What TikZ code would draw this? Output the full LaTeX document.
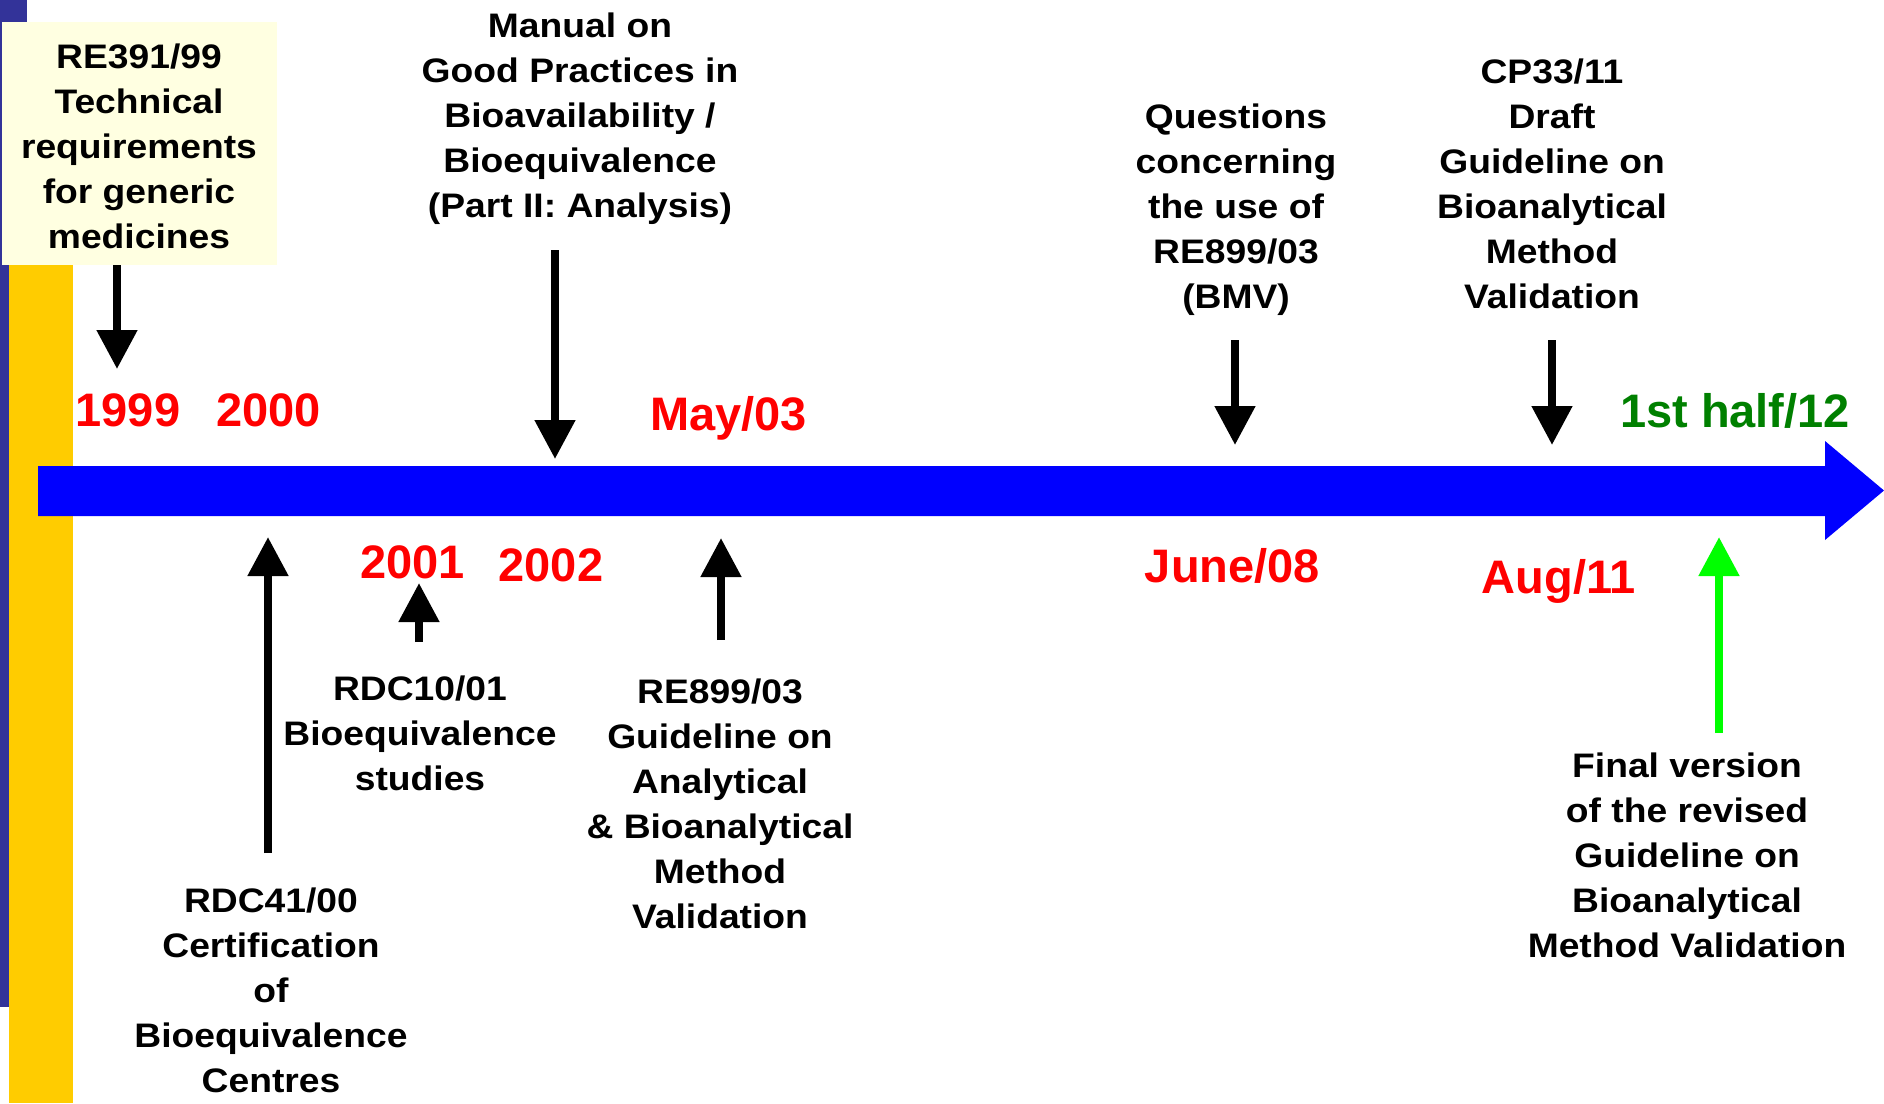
\documentclass[tikz,border=0pt]{standalone}
\usepackage{fontspec}
\setmainfont{Liberation Sans}
\newfontfamily\widesans[FakeStretch=1.095]{Liberation Sans}
\usetikzlibrary{arrows.meta}
\definecolor{slideblue}{RGB}{51,51,153}
\definecolor{slideyellow}{RGB}{255,204,0}
\definecolor{boxyellow}{RGB}{255,255,225}
\definecolor{darkgreen}{RGB}{0,128,0}
\definecolor{brightgreen}{RGB}{0,255,0}
\definecolor{lineblue}{RGB}{0,0,255}
\begin{document}
\begin{tikzpicture}[x=1pt,y=-1pt,
 lbl/.style={font=\widesans\fontsize{34}{45}\selectfont\bfseries, align=center, inner sep=0pt, anchor=base},
 yr/.style={font=\fontsize{47}{50}\selectfont\bfseries, inner sep=0pt, anchor=base, text=red},
 ptr/.style={line width=8pt, -{Triangle[width=39pt,length=39pt]}},
]
\useasboundingbox (0,0) rectangle (1884,1103);
\fill[white] (0,0) rectangle (1884,1103);
% slide template bars
\fill[slideblue] (0,0) rectangle (27,1007);
\fill[slideyellow] (9,22) rectangle (73,1103);
\fill[boxyellow] (2,22) rectangle (277,265);
% timeline arrow
\fill[lineblue] (38,466) -- (1825,466) -- (1825,441) -- (1884,490.5) -- (1825,540) -- (1825,516) -- (38,516) -- cycle;

% year labels
\node[yr] (y1999) at (128,426) {1999};
\node[yr] (y2000) at (268.5,426) {2000};
\node[yr] (y2003) at (728.5,430) {May/03};
\node[yr, text=darkgreen] (y2012) at (1735,427) {1st half/12};
\node[yr] (y2001) at (412.5,578) {2001};
\node[yr] (y2002) at (551,581) {2002};
\node[yr] (y2008) at (1232.5,582) {June/08};
\node[yr] (y2011) at (1559,593) {Aug/11};

% event labels (anchor base = baseline of the last line)
\node[lbl] (re391) at (139,248) {RE391/99\\Technical\\requirements\\for generic\\medicines};
\node[lbl] (manual) at (580,217) {Manual on\\Good Practices in\\Bioavailability /\\Bioequivalence\\(Part II: Analysis)};
\node[lbl] (quest) at (1236,308) {Questions\\concerning\\the use of\\RE899/03\\(BMV)};
\node[lbl] (cp33) at (1552,308.5) {CP33/11\\Draft\\Guideline on\\Bioanalytical\\Method\\Validation};
\node[lbl] (rdc10) at (420,790) {RDC10/01\\Bioequivalence\\studies};
\node[lbl] (re899) at (720,928) {RE899/03\\Guideline on\\Analytical\\\& Bioanalytical\\Method\\Validation};
\node[lbl] (rdc41) at (271,1092) {RDC41/00\\Certification\\of\\Bioequivalence\\Centres};
\node[lbl] (final) at (1687,957) {Final version\\of the revised\\Guideline on\\Bioanalytical\\Method Validation};

% connector end points
\coordinate (a1s) at (117,265);  \coordinate (a1e) at (117,369);
\coordinate (a2s) at (555,250);  \coordinate (a2e) at (555,459);
\coordinate (a3s) at (1235,340); \coordinate (a3e) at (1235,445);
\coordinate (a4s) at (1552,340); \coordinate (a4e) at (1552,445);
\coordinate (b1s) at (268,853);  \coordinate (b1e) at (268,537);
\coordinate (b2s) at (419,642);  \coordinate (b2e) at (419,583);
\coordinate (b3s) at (721,640);  \coordinate (b3e) at (721,538);
\coordinate (g1s) at (1719,733); \coordinate (g1e) at (1719,537);

\draw[ptr] (a1s) -- (a1e);
\draw[ptr] (a2s) -- (a2e);
\draw[ptr] (a3s) -- (a3e);
\draw[ptr] (a4s) -- (a4e);
\draw[ptr] (b1s) -- (b1e);
\draw[ptr] (b2s) -- (b2e);
\draw[ptr] (b3s) -- (b3e);
\draw[ptr, brightgreen] (g1s) -- (g1e);
\end{tikzpicture}
\end{document}
